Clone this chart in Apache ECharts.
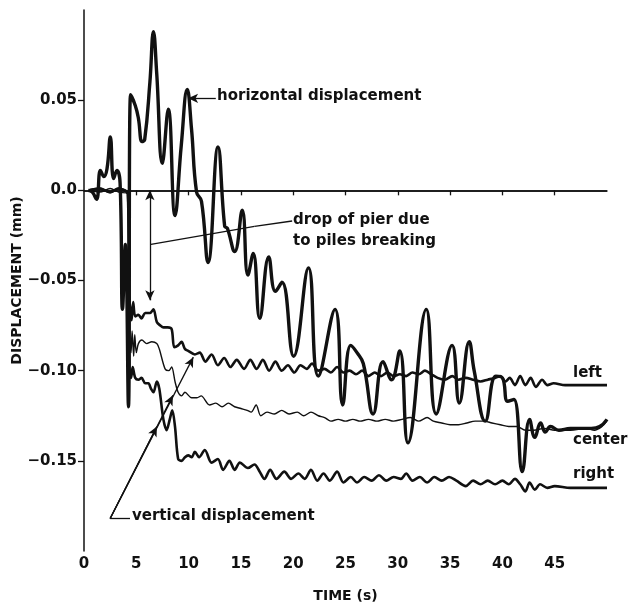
<!DOCTYPE html>
<html>
<head>
<meta charset="utf-8">
<script src="https://cdn.jsdelivr.net/npm/echarts@6/dist/echarts.min.js"></script>
<style>
  html, body { margin: 0; padding: 0; background: #fff; }
  #chart { width: 631px; height: 606px; }
</style>
</head>
<body>
<div id="chart"></div>
<script>
// tick labels
const timeTicks = [0, 5, 10, 15, 20, 25, 30, 35, 40, 45];
const dispTicks = [-0.15, -0.1, -0.05, 0, 0.05];

// horizontal displacement (thick curve)
const horizTime = [0.4, 0.8, 1.2, 1.57, 1.9, 2.2, 2.52, 2.83, 3.15, 3.45, 3.68, 3.95, 4.25, 4.45,
  4.9, 5.2, 5.55, 5.8, 6.3, 6.64, 6.95, 7.49, 8.06, 8.7, 9.3, 9.87, 10.28, 10.76, 11.23, 11.86,
  12.81, 13.45, 13.7, 14.4, 15.13, 15.67, 16.18, 16.8, 17.66, 18.3, 18.93, 20.04, 21.46, 22.4,
  24.0, 24.73, 25.5, 26.1, 26.7, 27.64, 28.59, 29.4, 30.18, 30.97, 32.72, 33.67, 35.19, 35.88,
  36.83, 37.3, 38.36, 39.37, 40.0, 40.5, 41.1, 41.9, 42.6, 43.1, 43.65, 44.1, 44.6, 45.4, 46.5,
  48.5, 49.3, 50];
const horizDisp = [0, -0.001, -0.005, 0.011, 0.0076, 0.012, 0.0296, 0.0065, 0.011, 0.004, -0.066, -0.03, -0.12, 0.053,
  0.047, 0.04, 0.027, 0.028, 0.06, 0.088, 0.065, 0.015, 0.045, -0.014, 0.025, 0.056, 0.034, -0.001, -0.006, -0.04,
  0.024, -0.02, -0.021, -0.034, -0.011, -0.047, -0.035, -0.071, -0.037, -0.056, -0.051, -0.092, -0.043, -0.103,
  -0.066, -0.119, -0.086, -0.09, -0.096, -0.124, -0.095, -0.105, -0.089, -0.14, -0.066, -0.124, -0.086, -0.118,
  -0.084, -0.1, -0.128, -0.103, -0.104, -0.117, -0.116, -0.156, -0.127, -0.137, -0.129, -0.134, -0.131, -0.133, -0.132,
  -0.132, -0.131, -0.127];

// vertical displacement, left
const leftTime = [0.5, 1.5, 2.5, 3.3, 4.2, 4.35, 4.55, 4.7, 4.9, 5.2, 5.5, 5.85, 6.3, 6.64, 6.96, 7.3, 7.59, 8.0,
  8.38, 8.63, 9.0, 9.33, 9.65, 9.96, 10.6, 11.07, 11.6, 12.2, 12.8, 13.4, 14.0, 14.6, 15.3, 15.9, 16.5, 17.1,
  17.7, 18.3, 18.9, 19.5, 20.1, 20.7, 21.3, 21.8, 22.4, 23.0, 23.6, 24.2, 24.8, 25.4, 26.0, 26.6, 27.2, 27.8,
  28.4, 29.0, 29.6, 30.2, 30.8, 31.4, 32.0, 32.6, 33.2, 33.8, 34.5, 35.2, 35.8, 36.5, 37.2, 37.9, 38.6, 39.3,
  39.8, 40.3, 40.7, 41.2, 41.7, 42.2, 42.7, 43.2, 43.8, 44.3, 44.9, 46, 50];
const leftDisp = [0, 0.001, -0.001, 0.001, -0.002, -0.06, -0.072, -0.062, -0.07, -0.069, -0.071, -0.068, -0.068, -0.066, -0.073, -0.075, -0.076, -0.076,
  -0.077, -0.087, -0.086, -0.084, -0.088, -0.089, -0.091, -0.09, -0.095, -0.091, -0.097, -0.093, -0.098, -0.094, -0.099, -0.094, -0.099, -0.094,
  -0.1, -0.095, -0.1, -0.097, -0.101, -0.097, -0.099, -0.096, -0.1, -0.099, -0.101, -0.098, -0.101, -0.1, -0.102, -0.1, -0.103, -0.101,
  -0.103, -0.101, -0.103, -0.102, -0.103, -0.101, -0.102, -0.1, -0.102, -0.104, -0.105, -0.103, -0.105, -0.104, -0.105, -0.106, -0.105, -0.104,
  -0.103, -0.106, -0.104, -0.108, -0.103, -0.108, -0.104, -0.109, -0.105, -0.108, -0.107, -0.108, -0.108];

// vertical displacement, center (thin)
const centerTime = [0.5, 1.5, 2.5, 3.3, 4.2, 4.35, 4.5, 4.6, 4.75, 4.85, 5.0, 5.2, 5.53, 6.0, 6.48, 6.96, 7.2, 7.75,
  8.1, 8.38, 8.7, 9.0, 9.33, 9.65, 10.28, 10.8, 11.2, 12.0, 12.6, 13.2, 13.8, 14.4, 15.0, 15.6, 15.98, 16.46,
  16.9, 17.5, 18.2, 18.9, 19.6, 20.4, 21.0, 21.7, 22.4, 23.0, 23.6, 24.3, 25.0, 25.7, 26.4, 27.2, 28.0, 28.8,
  29.6, 30.4, 31.2, 32.0, 32.8, 33.4, 34.2, 35.0, 35.8, 36.6, 37.4, 38.2, 39.0, 39.8, 40.6, 41.4, 42.2, 43.0,
  44.0, 45.0, 46.5, 48.0, 48.8, 49.5, 50];
const centerDisp = [0, -0.001, 0.001, -0.001, -0.002, -0.076, -0.09, -0.078, -0.092, -0.08, -0.09, -0.085, -0.083, -0.085, -0.084, -0.085, -0.088, -0.099,
  -0.1, -0.098, -0.106, -0.112, -0.114, -0.112, -0.115, -0.115, -0.114, -0.119, -0.118, -0.12, -0.118, -0.12, -0.121, -0.122, -0.123, -0.119,
  -0.125, -0.123, -0.124, -0.122, -0.124, -0.123, -0.125, -0.123, -0.125, -0.126, -0.128, -0.127, -0.128, -0.127, -0.128, -0.127, -0.128, -0.127,
  -0.128, -0.127, -0.126, -0.128, -0.126, -0.128, -0.129, -0.13, -0.13, -0.129, -0.128, -0.128, -0.129, -0.13, -0.131, -0.131, -0.133, -0.133,
  -0.132, -0.133, -0.133, -0.132, -0.133, -0.131, -0.128];

// vertical displacement, right
const rightTime = [0.5, 1.5, 2.5, 3.3, 4.2, 4.35, 4.5, 4.65, 4.9, 5.2, 5.5, 5.85, 6.16, 6.4, 6.64, 6.96, 7.2, 7.59,
  7.9, 8.2, 8.44, 8.7, 9.0, 9.33, 9.65, 9.96, 10.3, 10.6, 11.0, 11.55, 12.19, 12.8, 13.3, 13.9, 14.4, 14.9,
  15.67, 16.3, 16.8, 17.25, 17.8, 18.4, 19.15, 19.8, 20.5, 21.1, 21.7, 22.3, 22.9, 23.5, 24.2, 24.8, 25.5, 26.1,
  26.8, 27.5, 28.2, 28.9, 29.6, 30.3, 30.8, 31.4, 32.1, 32.8, 33.5, 34.2, 34.9, 35.6, 36.5, 37.2, 37.9, 38.6,
  39.3, 40.0, 40.6, 41.2, 41.7, 42.2, 42.6, 43.1, 43.6, 44.3, 45.0, 46.5, 50];
const rightDisp = [0, 0.001, -0.001, 0.001, -0.002, -0.1, -0.104, -0.098, -0.104, -0.105, -0.104, -0.107, -0.107, -0.11, -0.112, -0.106, -0.11, -0.127,
  -0.133, -0.127, -0.122, -0.131, -0.149, -0.15, -0.148, -0.147, -0.148, -0.145, -0.148, -0.144, -0.151, -0.149, -0.155, -0.15, -0.155, -0.151,
  -0.154, -0.152, -0.156, -0.16, -0.155, -0.16, -0.156, -0.16, -0.157, -0.16, -0.155, -0.161, -0.157, -0.161, -0.156, -0.162, -0.159, -0.162,
  -0.159, -0.161, -0.158, -0.161, -0.159, -0.16, -0.157, -0.161, -0.159, -0.162, -0.159, -0.161, -0.159, -0.161, -0.164, -0.161, -0.163, -0.161,
  -0.163, -0.161, -0.163, -0.16, -0.163, -0.167, -0.162, -0.166, -0.163, -0.165, -0.164, -0.165, -0.165];

const zip = (xs, ys) => xs.map((x, i) => [x, ys[i]]);

const font = '"DejaVu Sans", sans-serif';
const ink = '#111';

const chart = echarts.init(document.getElementById('chart'), null, { renderer: 'canvas' });

const arrowLine = { color: ink, width: 1.3, type: 'solid' };

chart.setOption({
  animation: false,
  backgroundColor: '#fff',
  grid: { left: 84, right: 24, top: 10, bottom: 55, outerBoundsMode: 'none', containLabel: false },
  xAxis: {
    type: 'value',
    min: 0,
    max: 50,
    interval: 5,
    name: 'TIME (s)',
    nameLocation: 'middle',
    nameGap: 38,
    nameTextStyle: { color: ink, fontFamily: font, fontWeight: 'bold', fontSize: 14 },
    axisLine: { lineStyle: { color: ink, width: 1.5 } },
    axisTick: { length: 5, lineStyle: { color: ink, width: 1.3 }, customValues: timeTicks.slice(1) },
    axisLabel: {
      color: ink, fontFamily: font, fontWeight: 'bold', fontSize: 15, margin: 6,
      customValues: timeTicks,
      formatter: (v) => String(v)
    },
    splitLine: { show: false }
  },
  yAxis: {
    type: 'value',
    min: -0.2,
    max: 0.1,
    interval: 0.05,
    name: 'DISPLACEMENT (mm)',
    nameLocation: 'middle',
    nameGap: 60,
    nameMoveOverlap: false,
    nameTextStyle: { color: ink, fontFamily: font, fontWeight: 'bold', fontSize: 14 },
    axisLine: { lineStyle: { color: ink, width: 1.5 } },
    axisTick: { length: 6, lineStyle: { color: ink, width: 1.3 }, customValues: dispTicks },
    axisLabel: {
      color: ink, fontFamily: font, fontWeight: 'bold', fontSize: 15, margin: 7,
      customValues: dispTicks,
      formatter: (v) => Math.abs(v) < 1e-9 ? '0.0' : (v < 0 ? '\u2212' : '') + Math.abs(v).toFixed(2)
    },
    splitLine: { show: false }
  },
  graphic: [
    { type: 'text', left: 217, top: 89, style: { text: 'horizontal displacement', fill: ink, font: 'bold 15px ' + font } },
    { type: 'text', left: 293, top: 213, style: { text: 'drop of pier due', fill: ink, font: 'bold 15px ' + font } },
    { type: 'text', left: 293, top: 234, style: { text: 'to piles breaking', fill: ink, font: 'bold 15px ' + font } },
    { type: 'text', left: 132, top: 509, style: { text: 'vertical displacement', fill: ink, font: 'bold 15px ' + font } },
    { type: 'text', left: 573, top: 366, style: { text: 'left', fill: ink, font: 'bold 15px ' + font } },
    { type: 'text', left: 573, top: 433, style: { text: 'center', fill: ink, font: 'bold 15px ' + font } },
    { type: 'text', left: 573, top: 467, style: { text: 'right', fill: ink, font: 'bold 15px ' + font } }
  ],
  series: [
    {
      name: 'horizontal',
      type: 'line',
      data: zip(horizTime, horizDisp),
      showSymbol: false,
      smooth: 0.45,
      lineStyle: { color: ink, width: 3.4 },
      z: 5,
      markLine: {
        silent: true,
        symbol: 'none',
        label: { show: false },
        lineStyle: { color: ink, width: 1.5, type: 'solid' },
        data: [{ yAxis: 0 }]
      }
    },
    {
      name: 'left',
      type: 'line',
      data: zip(leftTime, leftDisp),
      showSymbol: false,
      smooth: 0.3,
      lineStyle: { color: ink, width: 2.6 },
      z: 4
    },
    {
      name: 'center',
      type: 'line',
      data: zip(centerTime, centerDisp),
      showSymbol: false,
      smooth: 0.3,
      lineStyle: { color: ink, width: 1.4 },
      z: 4
    },
    {
      name: 'right',
      type: 'line',
      data: zip(rightTime, rightDisp),
      showSymbol: false,
      smooth: 0.3,
      lineStyle: { color: ink, width: 2.6 },
      z: 4
    },
    {
      name: 'annotations',
      type: 'line',
      data: [],
      markLine: {
        silent: true,
        animation: false,
        label: { show: false },
        symbol: ['none', 'arrow'],
        symbolSize: [7, 10],
        lineStyle: arrowLine,
        data: [
          // horizontal displacement pointer
          [{ coord: [12.6, 0.051] }, { coord: [9.95, 0.051] }],
          // drop of pier: double-headed arrow
          [{ coord: [6.3, 0], symbol: 'arrow' }, { coord: [6.3, -0.061] }],
          // drop of pier leader
          [{ coord: [6.4, -0.03], symbol: 'none' }, { coord: [16.3, -0.02], symbol: 'none' }],
          [{ coord: [16.3, -0.02], symbol: 'none' }, { coord: [19.9, -0.017], symbol: 'none' }],
          // vertical displacement pointers
          [{ coord: [2.5, -0.182], symbol: 'none' }, { coord: [4.4, -0.182], symbol: 'none' }],
          [{ coord: [2.5, -0.182] }, { coord: [6.97, -0.131] }],
          [{ coord: [2.5, -0.182] }, { coord: [8.5, -0.1137] }],
          [{ coord: [2.5, -0.182] }, { coord: [10.45, -0.0925] }]
        ]
      }
    }
  ]
});
</script>
</body>
</html>
